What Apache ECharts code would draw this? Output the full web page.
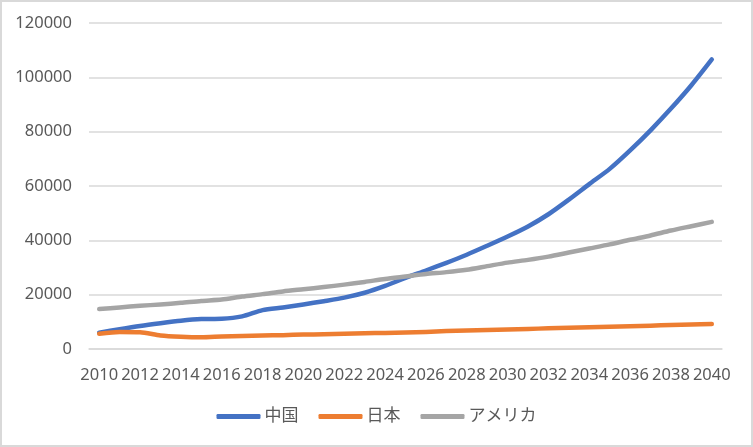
<!DOCTYPE html>
<html>
<head>
<meta charset="utf-8">
<script src="https://cdn.jsdelivr.net/npm/echarts@6/dist/echarts.min.js"></script>
<style>
html,body{margin:0;padding:0;background:#fff;}
#wrap{width:753px;height:447px;box-sizing:border-box;border:2px solid #d9d9d9;position:relative;overflow:hidden;}
#chart{position:absolute;left:-2px;top:-2px;width:753px;height:447px;}
</style>
</head>
<body>
<div id="wrap"><div id="chart"></div></div>
<script>
const years = [];
for (let y = 2010; y <= 2040; y++) years.push(String(y));

const seriesNames = ['中国', '日本', 'アメリカ'];

const china = [6000, 7300, 8500, 9500, 10400, 11000, 11100, 12000, 14300, 15300,
  16400, 17600, 18900, 20700, 23200, 26200, 28900, 31700, 34700, 38000,
  41400, 45100, 49600, 55000, 60700, 66300, 73100, 80500, 88500, 97100, 106600];

const japan = [5600, 6300, 6200, 5000, 4500, 4300, 4600, 4800, 5000, 5100,
  5300, 5400, 5600, 5800, 5900, 6100, 6300, 6600, 6800, 7000,
  7200, 7400, 7600, 7800, 8000, 8200, 8400, 8600, 8800, 9000, 9200];

const usa = [14700, 15300, 15900, 16400, 17000, 17700, 18200, 19300, 20200, 21200,
  22000, 22800, 23700, 24700, 25800, 26700, 27600, 28300, 29200, 30500,
  31800, 32800, 34000, 35500, 37000, 38500, 40200, 41800, 43600, 45200, 46800];

const yTicks = { min: 0, max: 120000, interval: 20000 };

const colors = ['#4472C4', '#ED7D31', '#A5A5A5'];
const font = '"Noto Sans", "Noto Sans CJK JP", sans-serif';

const chart = echarts.init(document.getElementById('chart'), null, { renderer: 'canvas' });
const mk = (name, data, i) => ({
  name, type: 'line', data, smooth: 0.25, symbol: 'none',
  lineStyle: { width: 4.5, color: colors[i], cap: 'round', join: 'round' },
  itemStyle: { color: colors[i] }
});
chart.setOption({
  animation: false,
  backgroundColor: '#fff',
  textStyle: { fontFamily: font },
  grid: { left: 89, right: 31, top: 23, bottom: 98, containLabel: false },
  legend: {
    bottom: 17, left: 'center',
    itemWidth: 44, itemHeight: 5, itemGap: 20,
    icon: 'roundRect',
    textStyle: { color: '#595959', fontSize: 17, fontFamily: font, padding: [0, 0, 0, -1] },
    data: seriesNames.map((n, i) => ({ name: n, itemStyle: { color: colors[i] } }))
  },
  xAxis: {
    type: 'category', data: years, boundaryGap: true,
    axisLine: { show: true, lineStyle: { color: '#d9d9d9', width: 1.5 } },
    axisTick: { show: false },
    axisLabel: { interval: 1, color: '#595959', fontSize: 16.5, margin: 18, fontFamily: font }
  },
  yAxis: {
    type: 'value', min: yTicks.min, max: yTicks.max, interval: yTicks.interval,
    axisLine: { show: false }, axisTick: { show: false },
    splitLine: { lineStyle: { color: '#d9d9d9', width: 1.5 } },
    axisLabel: { color: '#595959', fontSize: 16.5, margin: 17, fontFamily: font,
      formatter: v => String(v) }
  },
  series: [mk(seriesNames[0], china, 0), mk(seriesNames[1], japan, 1), mk(seriesNames[2], usa, 2)]
});
</script>
</body>
</html>
